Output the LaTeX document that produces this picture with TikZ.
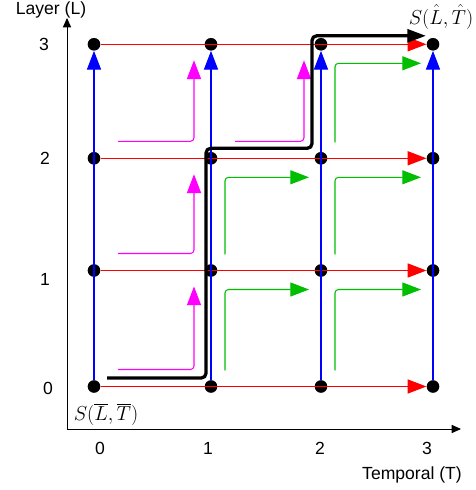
\documentclass[tikz,border=0pt]{standalone}
\usepackage{fontspec}
\setmainfont{Liberation Sans}
\usepackage{amsmath}
\usetikzlibrary{arrows.meta, calc}
\definecolor{movegreen}{RGB}{0,190,0}
\definecolor{movemagenta}{RGB}{255,0,255}

\begin{document}
\begin{tikzpicture}[x=0.03cm, y=0.03cm,
  dot/.style={circle, fill=black, inner sep=0pt, minimum size=3.8mm},
  head/.style={-{Triangle[length=16pt, width=12pt]}},
  rowarr/.style={head, draw=red, line width=1pt},
  colarr/.style={head, draw=blue, line width=1pt},
  uparr/.style={head, draw=movemagenta, line width=0.9pt, rounded corners=3pt},
  rightarr/.style={head, draw=movegreen, line width=0.9pt, rounded corners=3pt},
  bestpath/.style={-{Triangle[length=16pt, width=11pt]}, line width=2.8pt, rounded corners=4pt},
  axis/.style={{Triangle[length=8pt, width=7pt]}-{Triangle[length=8pt, width=7pt]}, line width=0.8pt},
  tick/.style={font=\fontsize{15}{17}\selectfont},
  slabel/.style={font=\fontsize{17.5}{19}\selectfont, inner sep=1pt}
]
  \useasboundingbox (0,0) rectangle (476,490);

  % axes
  \coordinate (origin) at (67,61);
  \coordinate (ltop) at (67,472);
  \coordinate (tend) at (461,61);
  \draw[axis] (ltop) -- (origin) -- (tend);
  \node[tick] (ltitle) at (51,480) {Layer (L)};
  \node[tick] (ttitle) at (412,15) {Temporal (T)};
  \foreach \c/\x in {0/100,1/208,2/320,3/427}
    \node[tick] (tt-\c) at (\x,42) {\c};
  \foreach \r/\y/\lx in {0/101.5/48,1/210.5/45,2/332/45,3/446/44}
    \node[tick] (lt-\r) at (\lx,\y) {\r};

  % states
  \foreach \c/\x in {0/94,1/211,2/321,3/433}
    \foreach \r/\y in {0/103.5,1/219.5,2/331.7,3/445.7}
      \node[dot] (d-\c-\r) at (\x,\y) {};

  \foreach \r in {0,...,3}
    \draw[rowarr] (d-0-\r) -- (d-3-\r);
  \foreach \c in {0,...,3}
    \draw[colarr] (d-\c-0) -- (d-\c-3);

  % moves inside the cells
  \foreach \c/\r in {0/0,0/1,0/2,1/2} {
    \pgfmathtruncatemacro{\cc}{\c+1}
    \pgfmathtruncatemacro{\rr}{\r+1}
    \draw[uparr] ($(d-\c-\r)+(24,17)$) -| ($(d-\cc-\rr)+(-17,-16)$);
  }
  \foreach \c/\r in {1/0,1/1,2/0,2/1,2/2} {
    \pgfmathtruncatemacro{\cc}{\c+1}
    \pgfmathtruncatemacro{\rr}{\r+1}
    \draw[rightarr] ($(d-\c-\r)+(14,16)$) |- ($(d-\cc-\rr)+(-12,-19)$);
  }

  % chosen path
  \draw[bestpath] ($(d-0-0)+(13,8.5)$) -| ($(d-1-2)+(-5,10)$)
    -| ($(d-2-3)+(-9,8.5)$) -- ($(d-3-3)+(-7,8.5)$);

  \node[slabel] (send) at (441,473) {$S(\hat{L},\hat{T})$};
  \node[slabel] (sstart) at (106,75.5) {$S(\overline{L},\overline{T})$};
\end{tikzpicture}
\end{document}
